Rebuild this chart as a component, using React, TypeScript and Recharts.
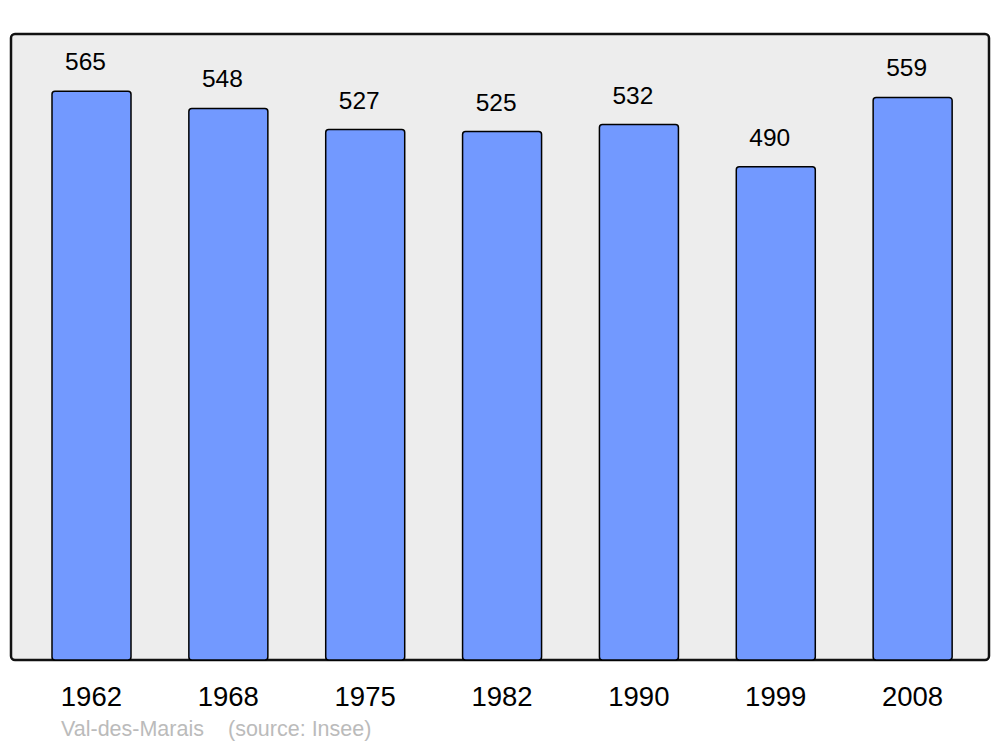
import React from 'react';
import { BarChart, Bar, XAxis, YAxis, ReferenceArea, LabelList } from 'recharts';

const years = ['1962', '1968', '1975', '1982', '1990', '1999', '2008'];
const population = [565, 548, 527, 525, 532, 490, 559];
const title = 'Val-des-Marais';
const source = '(source: Insee)';

const data = years.map((y, i) => ({ year: y, value: population[i], frame: i }));

const FONT = '"Liberation Sans", Arial, sans-serif';

export default function App() {
  return (
    <div style={{ position: 'absolute', left: 0, top: 0, width: 1000, height: 747, background: '#fff', fontFamily: FONT }}>
      <BarChart
        width={1000}
        height={747}
        data={data}
        margin={{ top: 34, right: 11, bottom: 57, left: 11 }}
      >
        <XAxis
          dataKey="year"
          axisLine={false}
          tickLine={false}
          tickSize={0}
          tickMargin={26}
          padding={{ left: 12, right: 8 }}
          tick={{ fill: '#000', fontSize: 27.5, fontFamily: FONT }}
          interval={0}
        />
        <XAxis xAxisId="frame" type="number" dataKey="frame" domain={[0, 1]} hide allowDataOverflow />
        <YAxis hide domain={[0, 622]} />
        <ReferenceArea
          xAxisId="frame"
          x1={0}
          x2={1}
          y1={0}
          y2={622}
          fill="#EDEDED"
          fillOpacity={1}
          stroke="#111"
          strokeWidth={2.5}
          radius={4}
          ifOverflow="visible"
        />
        <Bar dataKey="value" fill="#7299FF" stroke="#000" strokeWidth={1.5} barSize={79} radius={3} isAnimationActive={false}>
          <LabelList dataKey="value" position="top" offset={21} dx={-6} fill="#000" fontSize={24.5} fontFamily={FONT} />
        </Bar>
      </BarChart>
      <div style={{ position: 'absolute', left: 61, top: 717, fontSize: 21.5, color: '#BBBBBB', fontFamily: FONT, whiteSpace: 'nowrap' }}>
        {title}
      </div>
      <div style={{ position: 'absolute', left: 228, top: 717, fontSize: 21.5, color: '#BBBBBB', fontFamily: FONT, whiteSpace: 'nowrap' }}>
        {source}
      </div>
    </div>
  );
}
